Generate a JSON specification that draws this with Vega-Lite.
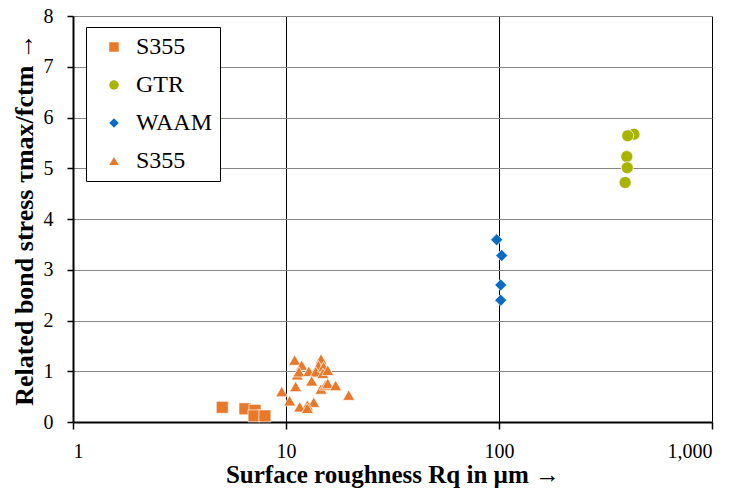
{
  "$schema": "https://vega.github.io/schema/vega-lite/v6.json",
  "autosize": "none",
  "width": 639,
  "height": 406,
  "padding": {"left": 73, "top": 16, "right": 25, "bottom": 68},
  "background": "white",
  "config": {
    "view": {"stroke": null},
    "font": "Liberation Serif"
  },
  "data": {
    "values": [
      {"series": "S355_sq", "rq": 5.02, "tau": 0.29},
      {"series": "S355_sq", "rq": 6.42, "tau": 0.26},
      {"series": "S355_sq", "rq": 7.15, "tau": 0.23},
      {"series": "S355_sq", "rq": 7.08, "tau": 0.12},
      {"series": "S355_sq", "rq": 7.96, "tau": 0.12},
      {"series": "GTR", "rq": 430, "tau": 5.67},
      {"series": "GTR", "rq": 402, "tau": 5.64},
      {"series": "GTR", "rq": 398, "tau": 5.23},
      {"series": "GTR", "rq": 400, "tau": 5.01},
      {"series": "GTR", "rq": 391, "tau": 4.72},
      {"series": "WAAM", "rq": 97.5, "tau": 3.59},
      {"series": "WAAM", "rq": 103, "tau": 3.28},
      {"series": "WAAM", "rq": 101.9, "tau": 2.70},
      {"series": "WAAM", "rq": 101.9, "tau": 2.40},
      {"series": "S355_tri", "rq": 10.98, "tau": 1.22},
      {"series": "S355_tri", "rq": 11.85, "tau": 1.12},
      {"series": "S355_tri", "rq": 14.6, "tau": 1.24},
      {"series": "S355_tri", "rq": 14.2, "tau": 1.11},
      {"series": "S355_tri", "rq": 11.3, "tau": 0.93},
      {"series": "S355_tri", "rq": 11.5, "tau": 0.99},
      {"series": "S355_tri", "rq": 12.8, "tau": 1.0},
      {"series": "S355_tri", "rq": 13.8, "tau": 0.99},
      {"series": "S355_tri", "rq": 15.0, "tau": 1.09},
      {"series": "S355_tri", "rq": 14.9, "tau": 0.96},
      {"series": "S355_tri", "rq": 15.7, "tau": 1.02},
      {"series": "S355_tri", "rq": 13.2, "tau": 0.81},
      {"series": "S355_tri", "rq": 11.1, "tau": 0.70},
      {"series": "S355_tri", "rq": 9.55, "tau": 0.60},
      {"series": "S355_tri", "rq": 14.6, "tau": 0.65},
      {"series": "S355_tri", "rq": 15.3, "tau": 0.73},
      {"series": "S355_tri", "rq": 15.7, "tau": 0.76},
      {"series": "S355_tri", "rq": 17.1, "tau": 0.72},
      {"series": "S355_tri", "rq": 19.7, "tau": 0.53},
      {"series": "S355_tri", "rq": 10.4, "tau": 0.42},
      {"series": "S355_tri", "rq": 13.5, "tau": 0.39},
      {"series": "S355_tri", "rq": 12.6, "tau": 0.33},
      {"series": "S355_tri", "rq": 11.6, "tau": 0.30},
      {"series": "S355_tri", "rq": 12.6, "tau": 0.27}
    ]
  },
  "mark": {"type": "point", "filled": true, "size": 145, "opacity": 1, "stroke": "white", "strokeWidth": 0.7},
  "encoding": {
    "x": {
      "field": "rq", "type": "quantitative",
      "scale": {"type": "log", "domain": [1, 1000]},
      "axis": {
        "title": "Surface roughness Rq in µm →",
        "values": [1, 10, 100, 1000],
        "format": ",d",
        "labelFontSize": 20, "labelColor": "black", "labelPadding": 12,
        "titleFontSize": 25, "titleFontWeight": "bold", "titleColor": "black", "titlePadding": 1,
        "tickSize": 7, "tickColor": "black", "tickWidth": 1.5,
        "domainColor": "black", "domainWidth": 2,
        "gridColor": "black", "gridWidth": 1, "gridOpacity": 1
      }
    },
    "y": {
      "field": "tau", "type": "quantitative",
      "scale": {"domain": [0, 8], "nice": false},
      "axis": {
        "title": "Related bond stress τmax/fctm →",
        "values": [0, 1, 2, 3, 4, 5, 6, 7, 8],
        "labelFontSize": 20, "labelColor": "black", "labelPadding": 14,
        "titleFontSize": 26, "titleFontWeight": "bold", "titleColor": "black", "titlePadding": 6,
        "tickSize": 6, "tickColor": "black", "tickWidth": 1.5,
        "domainColor": "black", "domainWidth": 2,
        "gridColor": "#868686", "gridWidth": 1.2, "gridOpacity": 1
      }
    },
    "color": {
      "field": "series", "type": "nominal",
      "scale": {"domain": ["S355_sq", "GTR", "WAAM", "S355_tri"], "range": ["#E8782A", "#A8B400", "#0A6CC4", "#E8782A"]},
      "legend": {
        "title": null,
        "orient": "none", "legendX": 13, "legendY": 11,
        "fillColor": "white", "strokeColor": "black",
        "padding": 8,
        "labelExpr": "indexof(datum.label, 'S355') == 0 ? 'S355' : datum.label",
        "labelFont": "Liberation Serif", "labelFontSize": 24, "labelColor": "black",
        "symbolOffset": 8,
        "labelOffset": 10,
        "symbolSize": 90, "symbolStrokeWidth": 0,
        "rowPadding": 14
      }
    },
    "shape": {
      "field": "series", "type": "nominal",
      "scale": {"domain": ["S355_sq", "GTR", "WAAM", "S355_tri"], "range": ["square", "circle", "diamond", "triangle-up"]},
      "legend": null
    }
  }
}
